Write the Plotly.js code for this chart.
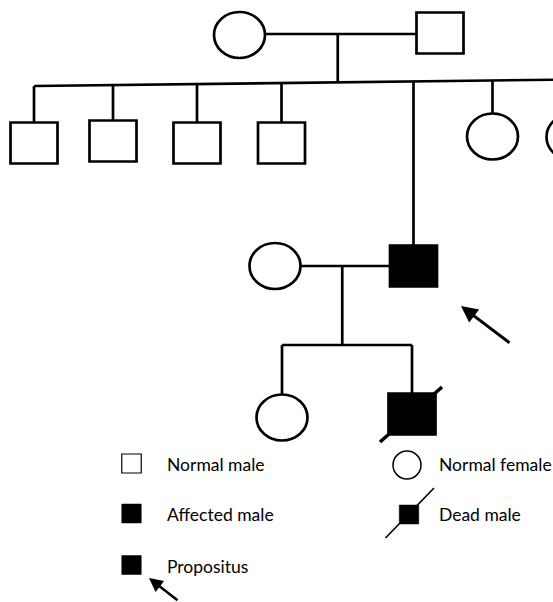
<!DOCTYPE html>
<html>
<head>
<meta charset="utf-8">
<script src="https://cdn.plot.ly/plotly-3.0.1.min.js"></script>
<style>html,body{margin:0;padding:0;background:#fff;}#chart{width:553px;height:602px;}</style>
</head>
<body>
<div id="chart"></div>
<script>
// ---- Pedigree data (diagram coordinates) ----
const personX   = [239.5, 440, 34, 113, 197, 281.5, 492.5, 572, 275, 413.5, 282, 412];
const personY   = [35, 33, 143, 141, 143, 143, 136.5, 137, 266, 266, 417.5, 414];
const personSex = ['F','M','M','M','M','M','F','F','F','M','F','M'];
const affected  = [0,0,0,0,0,0,0,0,0,1,0,1];
const deceased  = [0,0,0,0,0,0,0,0,0,0,0,1];
const probandIndex = 9;

// families: parents and children (indices into person arrays)
const famMother   = [0, 8];
const famFather   = [1, 9];
const famChildren = [[2,3,4,5,9,6,7],[10,11]];
const famSibYLeft  = [86, 345];
const famSibYRight = [79.5, 345];

// legend
const legendLabels = ['Normal male','Affected male','Propositus','Normal female','Dead male'];
const legendKind   = ['normalM','affectedM','proband','normalF','deadM'];

// ---- styles ----
const SQ_HW = 23.5, SQ_HH = 20.5, C_RX = 25.5, C_RY = 23, LW = 2.7;
const BLACK = '#000';

const shapes = [];
const annotations = [];

function line(x0,y0,x1,y1,w){
  shapes.push({type:'line',xref:'x',yref:'y',x0:x0,y0:y0,x1:x1,y1:y1,line:{color:BLACK,width:w||LW}});
}
function halfH(i){ return personSex[i]==='M' ? SQ_HH : C_RY; }
function halfW(i){ return personSex[i]==='M' ? SQ_HW : C_RX; }

// family lines
for (let f=0; f<famMother.length; f++){
  const m = famMother[f], d = famFather[f];
  const yM = (personY[m]+personY[d])/2;
  const leftIdx = personX[m] < personX[d] ? m : d;
  const rightIdx = leftIdx===m ? d : m;
  line(personX[leftIdx]+halfW(leftIdx), yM, personX[rightIdx]-halfW(rightIdx), yM);
  const kids = famChildren[f];
  const kx = kids.map(k=>personX[k]);
  const x0 = Math.min(...kx), x1 = Math.max(...kx);
  const yL = famSibYLeft[f], yR = famSibYRight[f];
  const sibY = x => yL + (yR-yL)*(x-x0)/(x1-x0);
  const midX = (personX[m]+personX[d])/2 - 2;
  line(midX, yM, midX, sibY(midX));
  line(x0, yL, x1, yR);
  kids.forEach(k=>{ line(personX[k], sibY(personX[k]), personX[k], personY[k]-halfH(k)); });
}

// individuals
for (let i=0;i<personX.length;i++){
  const fill = affected[i] ? BLACK : '#fff';
  if (personSex[i]==='M'){
    shapes.push({type:'rect',xref:'x',yref:'y',x0:personX[i]-SQ_HW,x1:personX[i]+SQ_HW,y0:personY[i]-SQ_HH,y1:personY[i]+SQ_HH,fillcolor:fill,line:{color:BLACK,width:LW}});
  } else {
    shapes.push({type:'circle',xref:'x',yref:'y',x0:personX[i]-C_RX,x1:personX[i]+C_RX,y0:personY[i]-C_RY,y1:personY[i]+C_RY,fillcolor:fill,line:{color:BLACK,width:LW}});
  }
  if (deceased[i]){
    line(personX[i]-32, personY[i]+28, personX[i]+30, personY[i]-27, 3.6);
  }
}

// proband arrow
annotations.push({x:personX[probandIndex]+47.5, y:personY[probandIndex]+40, ax:personX[probandIndex]+97.5, ay:personY[probandIndex]+78,
  xref:'x',yref:'y',axref:'x',ayref:'y',text:'',showarrow:true,arrowhead:2,arrowsize:1.1,arrowwidth:3,arrowcolor:BLACK,standoff:0});

// legend
const legX = [131.5, 131.5, 131.5, 407, 409];
const legY = [463.5, 513.5, 565, 465, 514.5];
const legTextX = [165, 165, 165, 437, 437];
const legTextY = [464, 514, 566, 464, 514];
const FONT = {family:'Lato, "Open Sans", sans-serif', size:17.5, color:'#000'};
for (let j=0;j<legendLabels.length;j++){
  const k = legendKind[j], x = legX[j], y = legY[j];
  if (k==='normalF'){
    shapes.push({type:'circle',xref:'x',yref:'y',x0:x-14,x1:x+14,y0:y-14,y1:y+14,fillcolor:'#fff',line:{color:BLACK,width:1.5}});
  } else {
    const filled = k!=='normalM';
    shapes.push({type:'rect',xref:'x',yref:'y',x0:x-9.75,x1:x+9.75,y0:y-9.5,y1:y+9.5,fillcolor:filled?BLACK:'#fff',line:{color:BLACK,width:filled?0.5:1.2}});
    if (k==='deadM') line(x-23.5, y+23.5, x+25, y-26.5, 1.6);
    if (k==='proband') annotations.push({x:x+17.5,y:y+13,ax:x+47.5,ay:y+36.5,xref:'x',yref:'y',axref:'x',ayref:'y',text:'',showarrow:true,arrowhead:2,arrowsize:1.1,arrowwidth:2.5,arrowcolor:BLACK,standoff:0});
  }
  annotations.push({x:legTextX[j],y:legTextY[j],xref:'x',yref:'y',text:legendLabels[j],showarrow:false,xanchor:'left',yanchor:'middle',font:FONT});
}

const layout = {
  width:553, height:602,
  margin:{l:0,r:0,t:0,b:0,pad:0},
  paper_bgcolor:'#fff', plot_bgcolor:'#fff',
  xaxis:{range:[0,553],visible:false,fixedrange:true},
  yaxis:{range:[602,0],visible:false,fixedrange:true},
  showlegend:false,
  shapes:shapes,
  annotations:annotations
};
Plotly.newPlot('chart',[{x:[],y:[],type:'scatter',mode:'markers',hoverinfo:'skip'}],layout,{displayModeBar:false,staticPlot:true});
</script>
</body>
</html>
